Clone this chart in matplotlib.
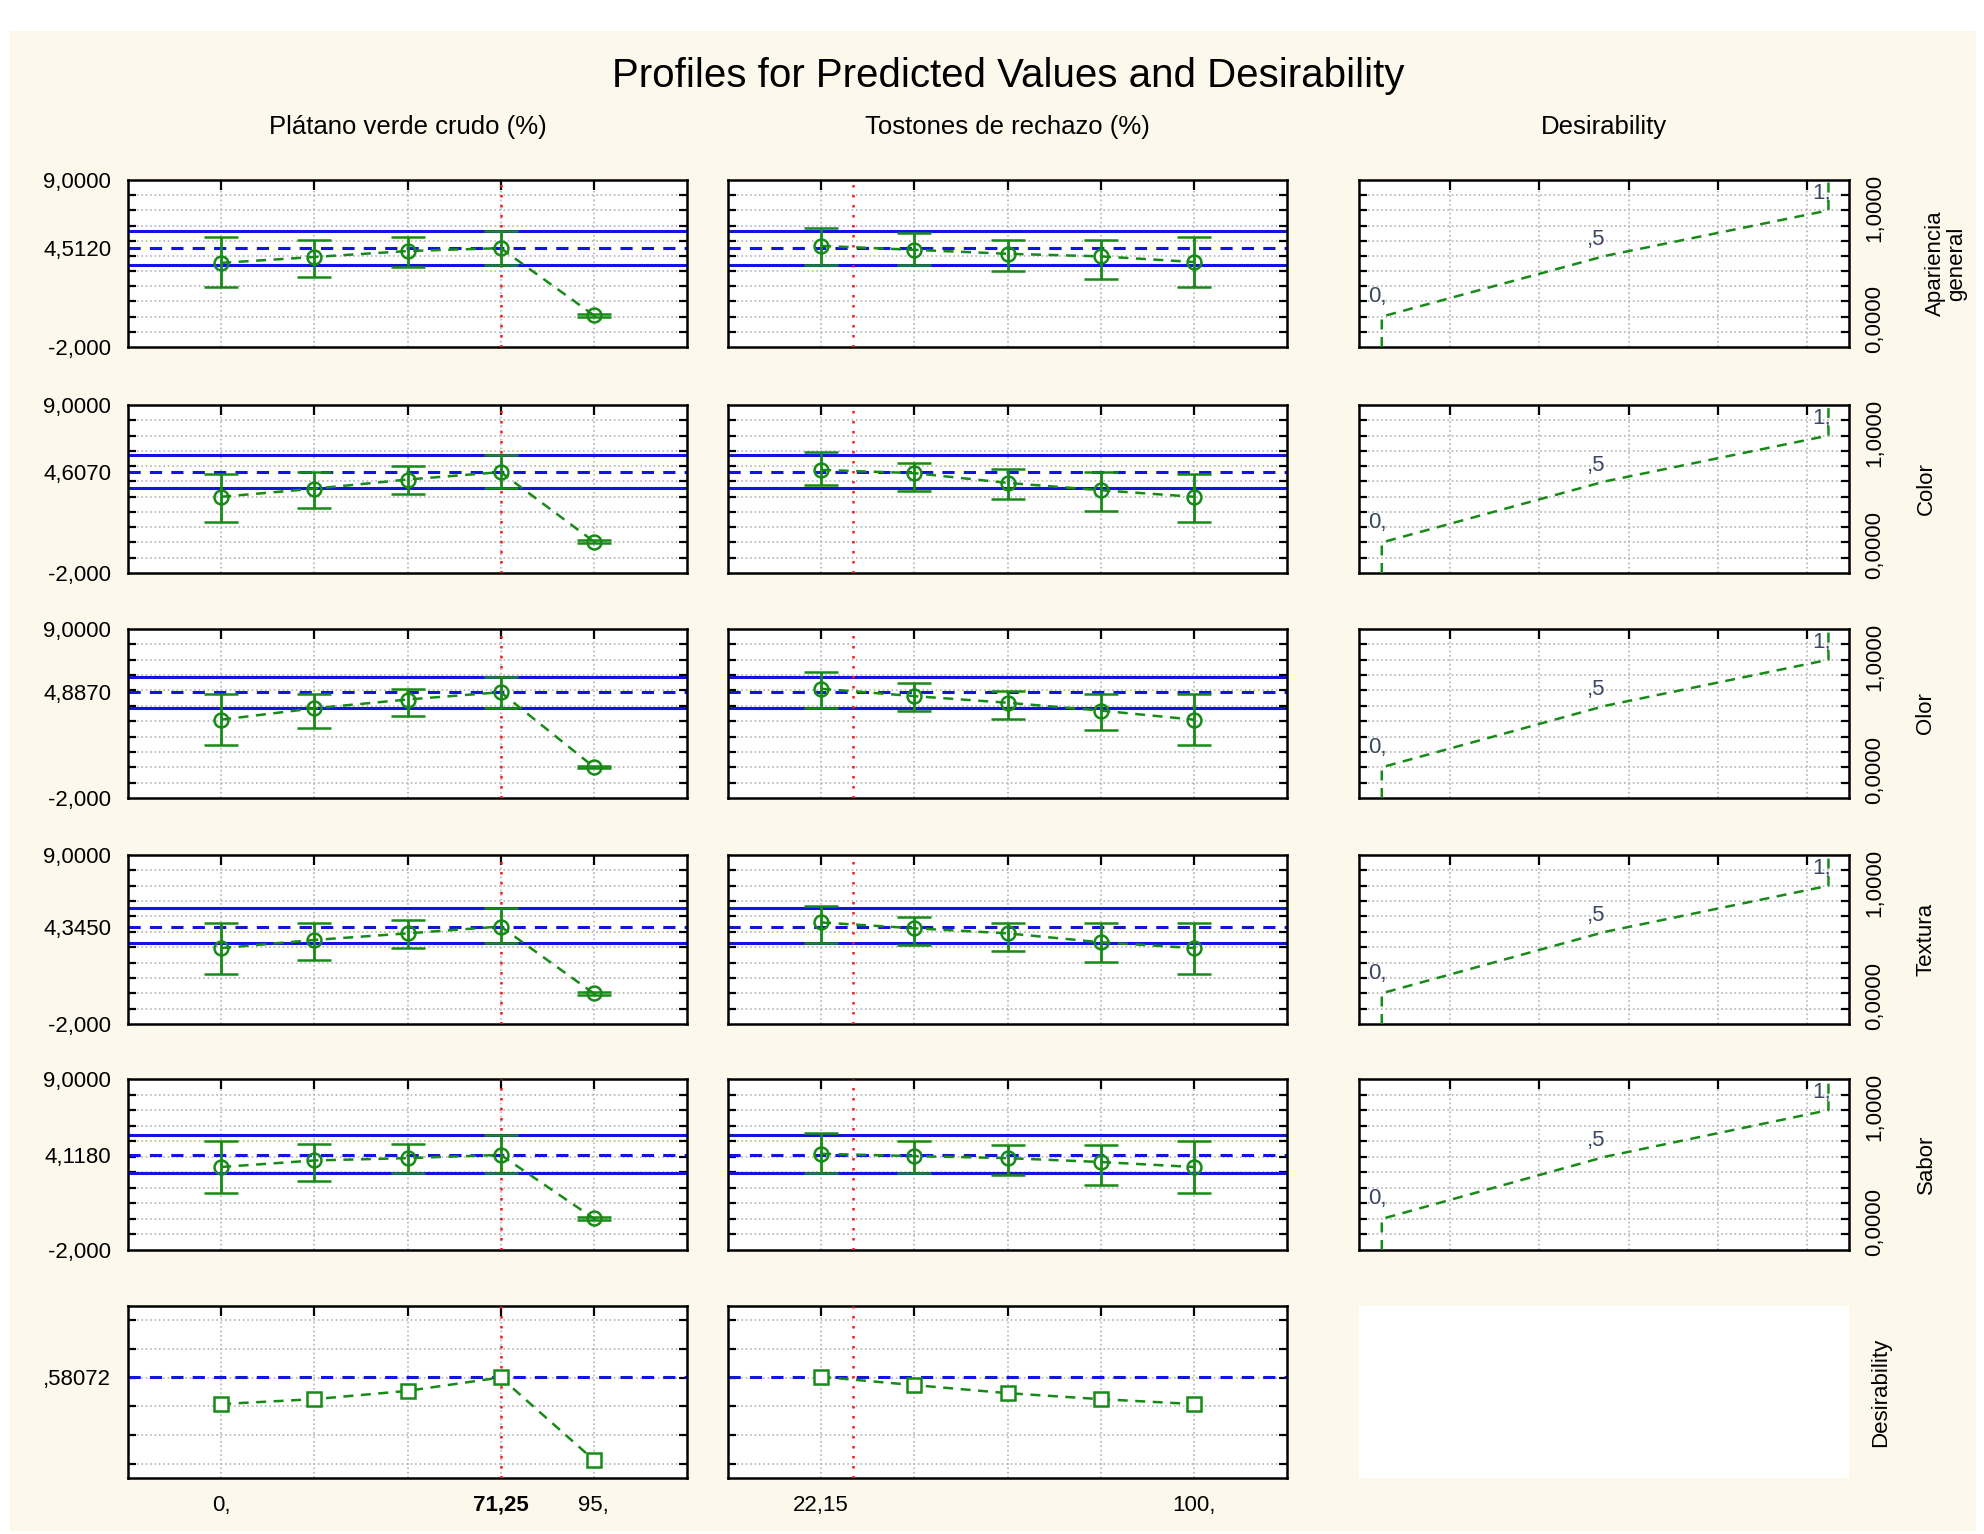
import matplotlib
matplotlib.use('Agg')
import matplotlib.pyplot as plt
from matplotlib.patches import Rectangle
import numpy as np

plt.rcParams['font.family'] = ['Liberation Sans', 'DejaVu Sans']

# ---- data ----
responses = ['Apariencia\ngeneral', 'Color', 'Olor', 'Textura', 'Sabor']
current = [4.512, 4.607, 4.887, 4.345, 4.118]
current_labels = ['4,5120', '4,6070', '4,8870', '4,3450', '4,1180']
ci_low = [3.40, 3.56, 3.84, 3.30, 2.97]
ci_high = [5.62, 5.73, 5.86, 5.52, 5.37]

platano_levels = [0, 23.75, 47.5, 71.25, 95]
platano_current = 71.25
tostones_levels = [22.15, 41.6125, 61.075, 80.5375, 100]
tostones_current = 28.75

platano_pred = [[3.54, 3.93, 4.32, 4.512, 0.09],
                [2.99, 3.52, 4.12, 4.607, 0.06],
                [3.10, 3.84, 4.41, 4.887, 0.02],
                [2.94, 3.47, 3.90, 4.345, -0.01],
                [3.34, 3.76, 3.91, 4.118, 0.03]]
platano_lo = [[1.93, 2.64, 3.24, 3.40, 0.00],
              [1.36, 2.25, 3.18, 3.56, -0.03],
              [1.46, 2.57, 3.31, 3.84, -0.07],
              [1.26, 2.18, 2.94, 3.30, -0.10],
              [1.67, 2.42, 2.95, 2.97, -0.06]]
platano_hi = [[5.23, 5.05, 5.23, 5.62, 0.18],
              [4.48, 4.63, 5.01, 5.73, 0.15],
              [4.80, 4.75, 5.11, 5.86, 0.11],
              [4.55, 4.55, 4.76, 5.52, 0.08],
              [4.98, 4.83, 4.83, 5.37, 0.12]]

tostones_pred = [[4.66, 4.40, 4.14, 3.97, 3.60],
                 [4.75, 4.54, 3.90, 3.42, 2.99],
                 [5.11, 4.63, 4.20, 3.69, 3.10],
                 [4.61, 4.23, 3.90, 3.32, 2.94],
                 [4.19, 4.04, 3.91, 3.66, 3.34]]
tostones_lo = [[3.43, 3.43, 3.03, 2.49, 1.95],
               [3.73, 3.35, 2.82, 2.08, 1.36],
               [3.84, 3.69, 3.14, 2.40, 1.46],
               [3.30, 3.15, 2.72, 2.03, 1.26],
               [2.97, 2.97, 2.80, 2.21, 1.67]]
tostones_hi = [[5.81, 5.49, 5.05, 5.05, 5.25],
               [5.90, 5.22, 4.80, 4.63, 4.48],
               [6.18, 5.48, 4.94, 4.75, 4.80],
               [5.69, 4.98, 4.55, 4.55, 4.55],
               [5.54, 4.98, 4.77, 4.77, 4.98]]

desir_platano = [0.488, 0.505, 0.534, 0.58072, 0.293]
desir_tostones = [0.583, 0.554, 0.526, 0.505, 0.488]
desir_current = 0.58072

# desirability function (desirability on x, response on y)
dfun_d = [0, 0, 0.5, 1, 1]
dfun_resp = [-2, 0, 4, 7, 9]

green = '#178a17'
blue = '#1414e0'
grid_col = '#b4b4b4'
W, H = 1984, 1534

fig = plt.figure(figsize=(W / 100, H / 100), dpi=100)
fig.patch.set_facecolor('white')
fig.patches.append(Rectangle((10 / W, 3 / H), 1966 / W, 1500 / H,
                             transform=fig.transFigure, facecolor='#fdf8ec',
                             edgecolor='none', zorder=-10))

col_x = [(128, 687), (728, 1287), (1359, 1849)]
row_y = [(180, 347), (405, 573), (629, 798), (855, 1024), (1079, 1250), (1306, 1478)]


def add_ax(c, r):
    x0, x1 = col_x[c]
    y0, y1 = row_y[r]
    ax = fig.add_axes([x0 / W, 1 - y1 / H, (x1 - x0) / W, (y1 - y0) / H])
    ax.set_facecolor('white')
    for s in ax.spines.values():
        s.set_linewidth(1.8)
        s.set_color('black')
    return ax


def frame(ax, xlim, xgrid, ylim, ygrid, ymajor, ylabels):
    ax.set_xlim(*xlim)
    ax.set_ylim(*ylim)
    ax.set_xticks(xgrid)
    ax.set_xticklabels([''] * len(xgrid))
    ax.set_yticks(ymajor)
    ax.set_yticklabels(ylabels)
    ax.set_yticks(ygrid, minor=True)
    ax.tick_params(axis='x', which='major', direction='in', top=True, bottom=False,
                   length=7, width=1.6, labelsize=16, pad=12)
    ax.tick_params(axis='y', which='major', length=0, pad=12, labelsize=16)
    ax.tick_params(axis='y', which='minor', direction='in', left=True, right=True,
                   length=6, width=1.6)
    ax.grid(True, axis='x', which='major', ls=':', color=grid_col, lw=1.2)
    ax.grid(True, axis='y', which='minor', ls=':', color=grid_col, lw=1.2)
    ax.set_axisbelow(True)


int_grid = list(range(-1, 9))

for r in range(5):
    for c, (lv, cur, pr, lo, hi) in enumerate([
            (platano_levels, platano_current, platano_pred[r], platano_lo[r], platano_hi[r]),
            (tostones_levels, tostones_current, tostones_pred[r], tostones_lo[r], tostones_hi[r])]):
        ax = add_ax(c, r)
        step = lv[1] - lv[0]
        if c == 0:
            frame(ax, (lv[0] - step, lv[-1] + step), lv, (-2, 9), int_grid,
                  [-2, current[r], 9], ['-2,000', current_labels[r], '9,0000'])
        else:
            frame(ax, (lv[0] - step, lv[-1] + step), lv, (-2, 9), int_grid, [], [])
        ax.axhline(ci_high[r], color=blue, lw=2.2, zorder=2)
        ax.axhline(ci_low[r], color=blue, lw=2.2, zorder=2)
        ax.axhline(current[r], color=blue, lw=2.2, ls=(0, (4, 3)), zorder=2)
        ax.axvline(cur, color='#ff1a1a', lw=1.8, ls=(0, (1, 3)), zorder=3)
        pr = np.array(pr)
        ax.plot(lv, pr, color=green, lw=1.8, ls=(0, (4, 3)), zorder=4)
        ax.errorbar(lv, pr, yerr=[pr - np.array(lo), np.array(hi) - pr], fmt='o',
                    mfc='none', mec=green, ms=10, mew=1.8, ecolor=green,
                    elinewidth=2.0, capsize=12, capthick=2.6, zorder=5)

    # desirability function panel
    ax = add_ax(2, r)
    frame(ax, (-0.051, 1.046), [0.153, 0.352, 0.553, 0.752, 0.951], (-2, 9),
          int_grid, [], [])
    ax.plot(dfun_d, dfun_resp, color=green, lw=1.8, ls=(0, (4, 3)), zorder=4)
    for dx, dy, t in [(-0.01, 1.3, '0,'), (0.48, 5.05, ',5'), (0.985, 8.1, '1,')]:
        ax.text(dx, dy, t, fontsize=16, color='#3c4660', ha='center', va='center')

    y0, y1 = row_y[r]
    xr = 1875 / W
    fig.text(xr, 1 - (y1 + 6) / H, '0,0000', rotation=90, rotation_mode='anchor',
             ha='left', va='center', fontsize=16)
    fig.text(xr, 1 - (y0 - 6) / H, '1,0000', rotation=90, rotation_mode='anchor',
             ha='right', va='center', fontsize=16)
    lx = 1946 if '\n' in responses[r] else 1926
    fig.text(lx / W, 1 - (y0 + y1) / 2 / H, responses[r], rotation=90,
             ha='center', va='center', fontsize=16, linespacing=1.0)

# bottom row: overall desirability
dgrid = [0.28, 0.38, 0.48, 0.58, 0.68, 0.78]
for c, (lv, cur, vals) in enumerate([(platano_levels, platano_current, desir_platano),
                                     (tostones_levels, tostones_current, desir_tostones)]):
    ax = add_ax(c, 5)
    step = lv[1] - lv[0]
    if c == 0:
        frame(ax, (lv[0] - step, lv[-1] + step), lv, (0.23, 0.83), dgrid,
              [desir_current], [',58072'])
        ax.set_xticklabels(['0,', '', '', '71,25', '95,'])
        ax.get_xticklabels()[3].set_fontweight('bold')
    else:
        frame(ax, (lv[0] - step, lv[-1] + step), lv, (0.23, 0.83), dgrid, [], [])
        ax.set_xticklabels(['22,15', '', '', '', '100,'])
    ax.axhline(desir_current, color=blue, lw=2.2, ls=(0, (4, 3)), zorder=2)
    ax.axvline(cur, color='#ff1a1a', lw=1.8, ls=(0, (1, 3)), zorder=3)
    ax.plot(lv, vals, color=green, lw=1.8, ls=(0, (4, 3)), marker='s', mfc='white',
            mec=green, ms=10, mew=1.8, zorder=5)

# empty panel bottom right
ax = add_ax(2, 5)
ax.set_xticks([])
ax.set_yticks([])
for s in ax.spines.values():
    s.set_visible(False)
y0, y1 = row_y[5]
fig.text(1881 / W, 1 - (y0 + y1) / 2 / H, 'Desirability', rotation=90,
         ha='center', va='center', fontsize=16)

fig.text(0.508, 1 - 76 / H, 'Profiles for Predicted Values and Desirability',
         ha='center', va='center', fontsize=29)
for c, t in enumerate(['Plátano verde crudo (%)', 'Tostones de rechazo (%)', 'Desirability']):
    x0, x1 = col_x[c]
    fig.text((x0 + x1) / 2 / W, 1 - 127 / H, t, ha='center', va='center', fontsize=18.5)

fig.savefig('out.png', dpi=100, facecolor=fig.get_facecolor())
